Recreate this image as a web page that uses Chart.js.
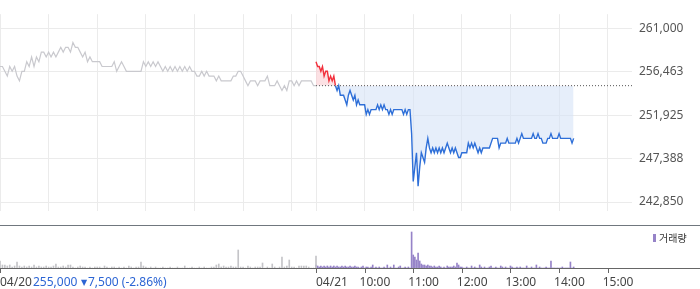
<!DOCTYPE html>
<html>
<head>
<meta charset="utf-8">
<script src="https://cdn.jsdelivr.net/npm/chart.js@4.4.1/dist/chart.umd.min.js"></script>
<style>
  html, body { margin: 0; padding: 0; background: #fff; }
  #wrap { position: relative; width: 700px; height: 289px; overflow: hidden; }
  #price { position: absolute; left: 0; top: 0; }
  #volume { position: absolute; left: 0; top: 225px; }
</style>
</head>
<body>
<div id="wrap">
  <canvas id="price" width="700" height="225"></canvas>
  <canvas id="volume" width="700" height="64"></canvas>
</div>
<script>
// minutes since 04/20 09:00 (one trading day = 390 minutes)
const prevStart = 0, prevStep = 3;
const todayStart = 390, todayStep = 2;
const prevClose = 255000;

const priceTicks = [261000, 256463, 251925, 247388, 242850];
const gridMinutes = [0, 60, 120, 180, 240, 300, 360, 390, 450, 510, 570, 630, 690, 750];
const axisTickMinutes = [0, 390, 450, 510, 570, 630, 690, 750];
const axisLabels = ['04/20', '04/21', '10:00', '11:00', '12:00', '13:00', '14:00', '15:00'];

// 04/20 prices, every 3 minutes
const prevPrices = [
  257000,257000,256500,256000,257000,256500,257000,256000,255500,256500,
  256500,257500,257000,258000,257000,258000,257500,258500,258500,258000,
  258500,258000,258500,258000,258500,259000,258500,259000,259000,258500,
  259500,259000,259000,258500,258000,258500,257500,258000,257500,257500,
  257500,257500,257000,257000,257000,257000,257000,257500,256500,257000,
  257500,257000,256500,256500,256500,256500,256500,256500,256500,257500,
  257000,257500,257000,257500,257000,257500,257000,256500,257000,256500,
  257000,256500,257000,256500,257000,256500,257000,256500,257000,256500,
  256500,256000,256000,256500,256000,256500,256000,256000,256000,255500,
  256000,255500,255500,255500,255500,255500,256000,256000,256500,256500,
  256000,255500,255000,255500,255500,255500,255000,255500,255500,255500,
  256000,255000,255000,255000,255500,255000,254500,255000,254500,255500,
  255500,255000,255500,255000,255500,255500,255500,255500,255500,255000,
  255000
];
// 04/21 prices, every 2 minutes
const todayPrices = [
  257500,257000,257000,256500,257000,256000,256500,256500,255500,256000,
  255500,256000,255000,254500,255000,254000,254000,254000,253500,253000,
  254000,254500,254000,253500,254000,253000,253500,253000,253000,253000,
  253000,252000,252500,252000,252500,252500,252500,252500,253000,252500,
  253000,252500,253000,252500,252500,252000,252500,252000,252500,252500,
  252500,252500,252500,252500,252000,252500,252000,252500,252500,250000,
  245000,246500,248000,244500,246500,248000,247500,247000,248500,249500,
  248500,248000,248500,248000,248500,248000,248500,248000,248500,248000,
  248500,249000,248500,248000,248500,248000,248500,248000,247500,247500,
  248000,248000,248000,248000,249000,248500,249000,248500,249000,248500,
  248000,248500,248000,248500,248500,248500,248500,248500,249000,249500,
  249500,249500,249500,248500,249000,249000,249000,249000,249500,249000,
  249000,249000,249000,249000,249500,249000,249500,250000,249500,249500,
  249500,249500,249500,249500,250000,249500,249500,250000,249500,249500,
  249000,249000,249000,249500,249500,250000,249500,249500,249500,249500,
  250000,249500,249500,249500,249500,249500,249500,249500,249000,249500
];
const prevVolumes = [
  700,300,300,200,300,100,200,600,200,100,
  200,100,200,100,300,100,200,100,100,200,
  100,100,200,400,100,100,200,100,300,300,
  100,0,100,200,100,100,0,100,0,100,
  100,100,0,200,100,0,100,100,0,100,
  0,100,0,200,100,0,100,100,600,200,
  100,0,100,0,100,0,0,100,0,0,
  100,0,0,100,0,0,200,0,0,100,
  0,0,100,0,100,0,0,100,100,300,
  400,100,200,100,100,200,100,100,1800,100,
  100,0,200,100,0,100,100,100,500,0,
  100,0,400,100,0,100,1100,100,200,800,
  100,100,0,200,200,200,200,100,0,0,
  1200
];
const todayVolumes = [
  300,200,100,200,100,200,100,200,100,200,
  100,200,100,200,100,100,200,100,200,100,
  100,200,100,100,200,100,100,0,100,200,
  0,100,100,0,100,300,0,100,0,100,
  0,0,100,0,300,0,100,0,300,0,
  0,100,200,0,0,100,0,100,0,3600,
  1300,1100,800,1500,700,400,300,300,200,300,
  200,200,100,200,100,100,200,100,0,100,
  0,200,100,100,100,200,100,500,300,100,
  100,0,0,100,0,0,200,0,100,0,
  0,300,100,0,100,0,0,100,200,0,
  0,100,0,0,200,100,0,100,0,0,
  200,100,0,0,100,0,100,0,0,0,
  200,0,0,100,0,0,300,0,100,0,
  0,0,100,0,0,700,0,0,0,0,
  0,0,100,0,0,0,0,600,0,100
];

const toPoints = (arr, start, step) => arr.map((v, i) => ({ x: start + i * step, y: v }));

const FONT = "'Noto Sans', 'Noto Sans CJK KR', sans-serif";
const UP = '#f2303c', DOWN = '#2e6fd8';

new Chart(document.getElementById('price'), {
  type: 'line',
  data: {
    datasets: [
      {
        data: [{ x: todayStart, y: prevClose }, { x: 780, y: prevClose }],
        borderColor: '#555',
        borderWidth: 1,
        borderDash: [1, 2],
        pointRadius: 0,
        fill: false
      },
      {
        data: toPoints(todayPrices, todayStart, todayStep),
        borderWidth: 1.4,
        borderColor: DOWN,
        pointRadius: 0,
        tension: 0,
        segment: {
          borderColor: c => (c.p0.parsed.y + c.p1.parsed.y) / 2 > prevClose ? UP : DOWN
        },
        fill: { target: { value: prevClose }, above: 'rgba(250,205,210,0.6)', below: 'rgba(214,227,247,0.6)' }
      },
      {
        data: toPoints(prevPrices, prevStart, prevStep),
        borderColor: '#c9c9ce',
        borderWidth: 1.2,
        pointRadius: 0,
        tension: 0,
        fill: false
      }
    ]
  },
  options: {
    responsive: false,
    animation: false,
    devicePixelRatio: 1,
    layout: { padding: 0 },
    plugins: { legend: { display: false }, tooltip: { enabled: false } },
    scales: {
      x: {
        type: 'linear', min: 0, max: 780,
        afterBuildTicks: s => { s.ticks = gridMinutes.map(v => ({ value: v })); },
        afterFit: s => { s.height = 0; },
        ticks: { display: false },
        grid: { color: '#ebebeb', drawTicks: false },
        border: { display: false }
      },
      y: {
        position: 'right', min: 241938, max: 262459,
        afterBuildTicks: s => { s.ticks = priceTicks.map(v => ({ value: v })); },
        afterFit: s => { s.width = 68; },
        ticks: {
          padding: 7, color: '#555',
          font: { family: FONT, size: 12 },
          callback: v => v.toLocaleString('en-US')
        },
        grid: { color: '#ebebeb', drawTicks: false },
        border: { display: false }
      }
    }
  }
});

const volumeAxis = {
  id: 'volumeAxis',
  afterDraw(chart) {
    const ctx = chart.ctx;
    const area = chart.chartArea;
    const x = chart.scales.x;
    ctx.save();
    ctx.fillStyle = '#70777e';
    ctx.fillRect(0, 0, 700, 1);
    ctx.fillStyle = '#666';
    ctx.fillRect(0, Math.round(area.bottom), 700, 1);
    axisTickMinutes.forEach(m => {
      ctx.fillRect(Math.round(x.getPixelForValue(m)), Math.round(area.bottom) + 1, 1, 4);
    });
    ctx.font = '12px ' + FONT;
    ctx.textBaseline = 'middle';
    ctx.textAlign = 'left';
    ctx.fillStyle = '#444';
    axisTickMinutes.forEach((m, i) => {
      const px = x.getPixelForValue(m);
      const shift = i < 2 ? 0 : -5;
      ctx.fillText(axisLabels[i], px + shift, 58);
    });
    // 04/20 closing info
    ctx.fillStyle = '#2c65d4';
    ctx.fillText('255,000', 33, 58);
    ctx.font = '8px DejaVu Sans';
    ctx.fillText('▼', 81, 58);
    ctx.font = '12px ' + FONT;
    ctx.fillText('7,500 (-2.86%)', 88, 58);
    // legend
    ctx.fillStyle = '#9683c8';
    ctx.fillRect(653, 9, 3, 8);
    ctx.fillStyle = '#333';
    ctx.font = "10px 'Noto Sans CJK KR'";
    ctx.fillText('거래량', 659, 13);
    ctx.restore();
  }
};

new Chart(document.getElementById('volume'), {
  type: 'bar',
  data: {
    datasets: [
      { data: toPoints(prevVolumes, prevStart, prevStep), backgroundColor: '#c4c4c8', barThickness: 1, grouped: false },
      { data: toPoints(todayVolumes, todayStart, todayStep), backgroundColor: '#9683c8', barThickness: 1, grouped: false }
    ]
  },
  options: {
    responsive: false,
    animation: false,
    devicePixelRatio: 1,
    layout: { padding: { top: 1, right: 68, bottom: 21, left: 0 } },
    plugins: { legend: { display: false }, tooltip: { enabled: false } },
    scales: {
      x: { type: 'linear', min: 0, max: 780, offset: false, display: false },
      y: { min: 0, max: 4200, display: false }
    }
  },
  plugins: [volumeAxis]
});
</script>
</body>
</html>
